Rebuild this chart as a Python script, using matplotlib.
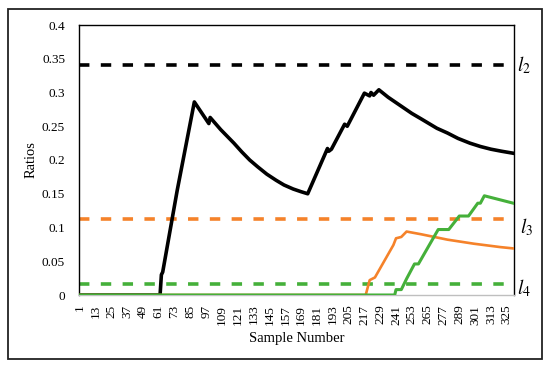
import matplotlib
matplotlib.use("Agg")
import matplotlib.pyplot as plt
from matplotlib.patches import Rectangle

plt.rcParams['font.family'] = ['Liberation Serif', 'DejaVu Serif']
plt.rcParams['lines.scale_dashes'] = False
plt.rcParams['mathtext.fontset'] = 'stix'

# ---- data ----
n_samples = 330
xtick_labels = list(range(1, n_samples + 1, 12))

black_x = [1, 62, 63, 64, 75, 88, 99, 100, 104, 108, 113, 118, 124, 130, 136, 143, 150, 156, 163, 169, 174,
           189, 190, 192, 202, 204, 217, 221, 222, 224, 228,
           235, 241, 247, 253, 260, 266, 272, 280, 288, 297, 305, 313, 321, 330]
black_y = [0, 0, 0.030, 0.034, 0.155, 0.286, 0.254, 0.263, 0.254, 0.245, 0.235, 0.225, 0.212, 0.200, 0.190,
           0.179, 0.170, 0.163, 0.157, 0.153, 0.150,
           0.217, 0.213, 0.216, 0.253, 0.250, 0.299, 0.295, 0.300, 0.296, 0.304,
           0.293, 0.285, 0.277, 0.269, 0.261, 0.254, 0.247, 0.240, 0.232, 0.225, 0.220, 0.216, 0.213, 0.210]

orange_x = [1, 218, 221, 225, 239, 241, 245, 249, 260, 270, 280, 290, 300, 310, 320, 330]
orange_y = [0, 0, 0.022, 0.026, 0.074, 0.084, 0.086, 0.094, 0.090, 0.086, 0.082, 0.079, 0.076, 0.0735,
            0.071, 0.069]

green_x = [1, 240, 241, 245, 249, 255, 258, 273, 281, 289, 296, 303, 305, 308, 330]
green_y = [0, 0, 0.008, 0.008, 0.024, 0.046, 0.046, 0.097, 0.097, 0.117, 0.117, 0.136, 0.136, 0.147, 0.136]

l2_value = 0.34
l3_value = 0.113
l4_value = 0.016
yticks = [0, 0.05, 0.1, 0.15, 0.2, 0.25, 0.3, 0.35, 0.4]
ytick_labels = ['0', '0.05', '0.1', '0.15', '0.2', '0.25', '0.3', '0.35', '0.4']

BLACK = '#000000'
ORANGE = '#F5822A'
GREEN = '#45B03A'

fig = plt.figure(figsize=(5.5, 3.69), dpi=100)
fig.patches.append(Rectangle((8 / 550, 1 - 359 / 369), 534 / 550, 350 / 369,
                             transform=fig.transFigure, fill=False,
                             edgecolor='#222222', linewidth=1.3))

ax = fig.add_axes([79 / 550, 1 - 295 / 369, 435 / 550, 270 / 369])

dash = (7.5, 8.2)
ax.axhline(l2_value, color=BLACK, lw=2.6, dashes=dash, zorder=2)
ax.axhline(l3_value, color=ORANGE, lw=2.6, dashes=dash, zorder=2)
ax.axhline(l4_value, color=GREEN, lw=2.6, dashes=dash, zorder=2)

ax.plot(black_x, black_y, color=BLACK, lw=2.6, zorder=3)
ax.plot(orange_x, orange_y, color=ORANGE, lw=1.9, zorder=4)
ax.plot(green_x, green_y, color=GREEN, lw=2.2, zorder=5)

ax.set_xlim(0.5, n_samples + 0.5)
ax.set_ylim(0, 0.4)
ax.set_yticks(yticks)
ax.set_yticklabels(ytick_labels, fontsize=9.5)
ax.set_xticks(xtick_labels)
ax.set_xticklabels([str(v) for v in xtick_labels], rotation=90, fontsize=9.5)
ax.tick_params(axis='both', length=0)
ax.tick_params(axis='y', pad=10)
ax.tick_params(axis='x', pad=7)

for s in ['left', 'top', 'right']:
    ax.spines[s].set_color('black')
    ax.spines[s].set_linewidth(1.0)
ax.spines['bottom'].set_color('#BFBFBF')
ax.spines['bottom'].set_linewidth(1.0)

ax.set_ylabel('Ratios', fontsize=10.5)
ax.yaxis.set_label_coords(-0.095, 0.5)
ax.set_xlabel('Sample Number', fontsize=10.5, labelpad=5)

ax.text(1.008, l2_value, r'$l_2$', transform=ax.get_yaxis_transform(),
        fontsize=14, va='center', ha='left', clip_on=False)
ax.text(1.014, l3_value - 0.012, r'$l_3$', transform=ax.get_yaxis_transform(),
        fontsize=14, va='center', ha='left', clip_on=False)
ax.text(1.008, l4_value - 0.006, r'$l_4$', transform=ax.get_yaxis_transform(),
        fontsize=14, va='center', ha='left', clip_on=False)

fig.savefig('out.png', dpi=100)
